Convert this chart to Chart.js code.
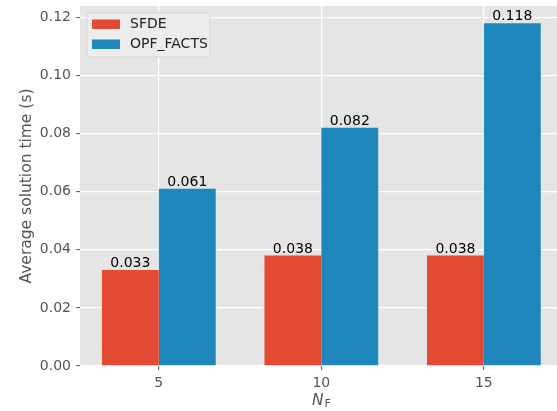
<!DOCTYPE html>
<html>
<head>
<meta charset="utf-8">
<script src="https://cdn.jsdelivr.net/npm/chart.js@4/dist/chart.umd.min.js"></script>
<style>
html, body { margin: 0; padding: 0; overflow: hidden; background: #fff; }
canvas { display: block; }
</style>
</head>
<body>
<canvas id="c" width="557" height="411"></canvas>
<script>
const categories = ['5', '10', '15'];
const sfdeValues = [0.033, 0.038, 0.038];
const opfValues = [0.061, 0.082, 0.118];
const seriesNames = ['SFDE', 'OPF_FACTS'];
const yTicks = [0, 0.02, 0.04, 0.06, 0.08, 0.10, 0.12];

const RED = '#E24A33';
const BLUE = '#1F87BC';
const FONT = "'DejaVu Sans', sans-serif";

const toPoints = arr => arr.map((v, i) => ({ x: i, y: v }));

const edgeFix = {
  id: 'edgeFix',
  beforeDatasetsDraw(chart) {
    const ctx = chart.ctx, a = chart.chartArea;
    ctx.save();
    ctx.fillStyle = '#E5E5E5';
    ctx.fillRect(chart.width - 4, a.top, 4, a.bottom - a.top);
    ctx.fillStyle = '#fff';
    yTicks.forEach(v => {
      const y = chart.scales.y.getPixelForValue(v);
      ctx.fillRect(chart.width - 4, y - 0.65, 4, 1.3);
    });
    ctx.restore();
  }
};

const extras = {
  id: 'extras',
  afterDatasetsDraw(chart) {
    const ctx = chart.ctx;
    ctx.save();
    // bar value labels
    ctx.fillStyle = '#000';
    ctx.font = '14px ' + FONT;
    ctx.textAlign = 'center';
    ctx.textBaseline = 'alphabetic';
    chart.data.datasets.forEach((ds, di) => {
      const meta = chart.getDatasetMeta(di);
      meta.data.forEach((el, i) => {
        ctx.fillText(ds.data[i].y.toFixed(3), el.x, el.y - 3);
      });
    });
    // legend
    const lx = 87, ly = 13, lw = 123, lh = 44, r = 3;
    ctx.beginPath();
    ctx.moveTo(lx + r, ly);
    ctx.arcTo(lx + lw, ly, lx + lw, ly + lh, r);
    ctx.arcTo(lx + lw, ly + lh, lx, ly + lh, r);
    ctx.arcTo(lx, ly + lh, lx, ly, r);
    ctx.arcTo(lx, ly, lx + lw, ly, r);
    ctx.closePath();
    ctx.fillStyle = 'rgba(236,236,236,0.95)';
    ctx.fill();
    ctx.strokeStyle = 'rgba(210,210,210,0.9)';
    ctx.lineWidth = 1;
    ctx.stroke();
    const cols = [RED, BLUE];
    ctx.textAlign = 'left';
    ctx.textBaseline = 'middle';
    ctx.font = '14px ' + FONT;
    seriesNames.forEach((name, i) => {
      const yy = 19.5 + i * 20;
      ctx.fillStyle = cols[i];
      ctx.fillRect(92, yy, 28, 9.5);
      ctx.fillStyle = '#222';
      ctx.fillText(name, 130, yy + 5);
    });
    // y title
    ctx.save();
    ctx.translate(27, (chart.chartArea.top + chart.chartArea.bottom) / 2);
    ctx.rotate(-Math.PI / 2);
    ctx.textAlign = 'center';
    ctx.textBaseline = 'middle';
    ctx.fillStyle = '#555';
    ctx.font = '15.5px ' + FONT;
    ctx.fillText('Average solution time (s)', 0, 0);
    ctx.restore();
    // x title: N_F
    ctx.fillStyle = '#555';
    ctx.textBaseline = 'alphabetic';
    ctx.textAlign = 'left';
    ctx.font = 'italic 15.5px ' + FONT;
    const nW = ctx.measureText('N').width;
    ctx.font = '11px ' + FONT;
    const fW = ctx.measureText('F').width;
    const total = nW + 1 + fW;
    const cx = chart.scales.x.getPixelForValue(1);
    const x0 = cx - total / 2;
    ctx.font = 'italic 15.5px ' + FONT;
    ctx.fillText('N', x0, 404.5);
    ctx.font = '11px ' + FONT;
    ctx.fillText('F', x0 + nW + 1, 407);
    ctx.restore();
  }
};

new Chart(document.getElementById('c'), {
  type: 'bar',
  data: {
    datasets: [
      { label: seriesNames[0], data: toPoints(sfdeValues), backgroundColor: RED, borderWidth: 0 },
      { label: seriesNames[1], data: toPoints(opfValues), backgroundColor: BLUE, borderWidth: 0 }
    ]
  },
  options: {
    responsive: false,
    animation: false,
    devicePixelRatio: 1,
    categoryPercentage: 0.7,
    barPercentage: 1.0,
    layout: { autoPadding: false, padding: { left: 0, top: 6, right: 0, bottom: 0 } },
    plugins: { legend: { display: false }, tooltip: { enabled: false } },
    scales: {
      x: {
        type: 'linear',
        min: -0.485,
        max: 2.45,
        offset: false,
        afterBuildTicks: s => { s.ticks = categories.map((c, i) => ({ value: i })); },
        afterFit: s => { s.height = 45; s.paddingLeft = 0; s.paddingRight = 0; },
        ticks: {
          callback: v => categories[v],
          font: { family: FONT, size: 14 },
          color: '#555',
          padding: 5,
          maxRotation: 0,
          autoSkip: false
        },
        grid: { offset: false, color: '#fff', lineWidth: 1.3, tickColor: '#555', tickLength: 4, tickWidth: 1 },
        border: { display: false }
      },
      y: {
        min: 0,
        max: 0.1239,
        afterBuildTicks: s => { s.ticks = yTicks.map(v => ({ value: v })); },
        afterFit: s => { s.width = 80; s.paddingTop = 0; s.paddingBottom = 0; },
        ticks: {
          callback: v => v.toFixed(2),
          font: { family: FONT, size: 14 },
          color: '#555',
          padding: 5
        },
        grid: { color: '#fff', lineWidth: 1.3, tickColor: '#555', tickLength: 4, tickWidth: 1 },
        border: { display: false }
      }
    }
  },
  plugins: [{
    id: 'bg',
    beforeDraw(chart) {
      const a = chart.chartArea;
      chart.ctx.save();
      chart.ctx.fillStyle = '#E5E5E5';
      chart.ctx.fillRect(a.left, a.top, chart.width - a.left, a.bottom - a.top);
      chart.ctx.restore();
    }
  }, edgeFix, extras]
});
</script>
</body>
</html>
